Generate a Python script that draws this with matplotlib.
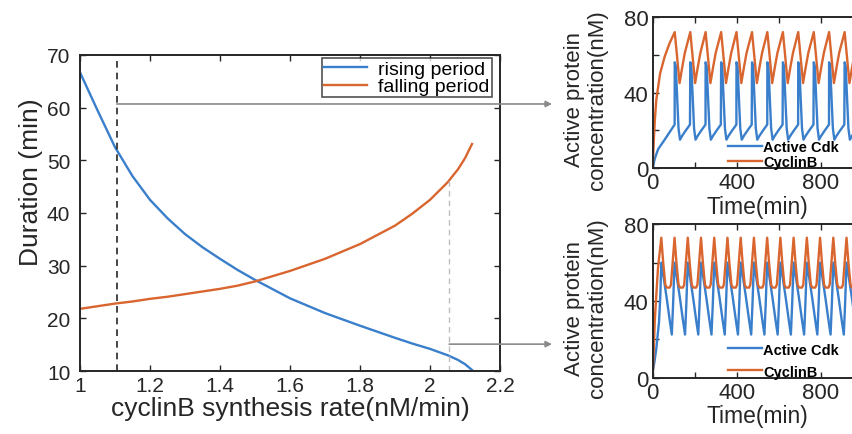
import matplotlib
matplotlib.use("Agg")
import matplotlib.pyplot as plt
import numpy as np

plt.rcParams['font.family'] = ['Liberation Sans', 'DejaVu Sans']

BLUE = '#3a7fcb'
ORANGE = '#d9652f'
INK = '#262626'

# --- left panel: durations vs cyclinB synthesis rate
rate = [1.00, 1.05, 1.10, 1.15, 1.20, 1.25, 1.30, 1.35, 1.40, 1.45, 1.50, 1.60, 1.70,
	1.80, 1.90, 1.95, 2.00, 2.05, 2.08, 2.10, 2.12]
rising = [66.7, 59.5, 52.5, 47.0, 42.5, 39.0, 36.0, 33.5, 31.3, 29.2, 27.3, 23.8, 21.0,
	18.6, 16.3, 15.2, 14.2, 13.0, 12.1, 11.3, 10.2]
falling = [21.8, 22.3, 22.8, 23.2, 23.7, 24.1, 24.6, 25.1, 25.6, 26.2, 27.0, 29.0, 31.3,
	34.1, 37.6, 39.9, 42.5, 45.8, 48.3, 50.4, 53.1]

selected_rates = [1.105, 2.055]
arrow_levels = [60.7, 15.1]

# --- right panels: time courses, peak times and one cycle shape
top_peaks = [105, 179, 252, 326, 399, 473, 546, 620, 693, 767, 840, 914, 987]
top_cdk_init_t = [0, 10, 26, 57, 104.5]
top_cdk_init = [0, 5, 10, 15, 23]
top_cdk_off = [0, 5, 12, 18, 25, 35, 50, 72.5]
top_cdk_val = [56, 54, 36, 21, 15, 17, 19.5, 23]
top_cyc_init_t = [0, 5, 10, 17, 35, 57, 80]
top_cyc_init = [0, 14, 25, 36, 50, 59, 66]
top_cyc_off = [0, 23, 35, 48]
top_cyc_val = [72, 45, 53, 61]

bot_peaks = [41, 104, 167, 230, 293, 356, 419, 482, 545, 608, 671, 734, 797, 860, 923, 986]
bot_cdk_init_t = [0, 8, 17, 30, 36]
bot_cdk_init = [3, 8, 15, 29, 42]
bot_cdk_off = [0, 10, 25, 40, 50, 56]
bot_cdk_val = [60, 53, 42, 30, 22.5, 38]
bot_cyc_init_t = [0, 10, 25]
bot_cyc_init = [0, 30, 57]
bot_cyc_off = [0, 9, 19, 26, 40, 46, 54]
bot_cyc_val = [73, 60, 48.5, 47, 47, 48.5, 60]


def trace(init_t, init_v, peaks, offs, vals):
	t = list(init_t)
	v = list(init_v)
	for p in peaks:
		t += [p + o for o in offs]
		v += vals
	return np.array(t), np.array(v)


def style_box(ax, size, xpad, ypad):
	ax.tick_params(which='both', direction='in', top=True, right=True,
		length=4, width=1.0, color=INK, labelcolor=INK, labelsize=size)
	ax.tick_params(axis='x', pad=xpad)
	ax.tick_params(axis='y', pad=ypad)
	for s in ax.spines.values():
		s.set_color(INK)
		s.set_linewidth(1.4)


fig = plt.figure(figsize=(8.52, 4.35), dpi=100)
W, H = 852.0, 435.0

# main panel
ax = fig.add_axes([80 / W, 1 - 372 / H, 420 / W, 316 / H])
ax.plot(rate, rising, color=BLUE, lw=1.7, label='rising period')
ax.plot(rate, falling, color=ORANGE, lw=1.7, label='falling period')
ax.set_xlim(1, 2.2)
ax.set_ylim(10, 70)
ax.set_xticks([1, 1.2, 1.4, 1.6, 1.8, 2, 2.2])
ax.set_xticklabels(['1', '1.2', '1.4', '1.6', '1.8', '2', '2.2'])
ax.set_yticks([10, 20, 30, 40, 50, 60, 70])
style_box(ax, 15, 3.5, 7)
ax.axvline(selected_rates[0], color=INK, ls=(0, (4, 3)), lw=1.2)
ax.vlines(selected_rates[1], 10, np.interp(selected_rates[1], rate, falling),
	colors='#bdbdbd', linestyles=(0, (4, 3)), lw=1.0)
ax.set_xlabel('cyclinB synthesis rate(nM/min)', fontsize=19, color=INK, labelpad=1)
ax.set_ylabel('Duration (min)', fontsize=19, color=INK)
ax.yaxis.set_label_coords(-0.088, 0.6)
leg = ax.legend(loc='upper right', bbox_to_anchor=(0.98, 0.99), borderaxespad=0,
	fontsize=14, labelspacing=0, borderpad=0.1, handlelength=2.2, handletextpad=0.6,
	fancybox=False, edgecolor=INK)
leg.get_frame().set_linewidth(1.2)

# arrows to the time-course panels
for r, lev in zip(selected_rates, arrow_levels):
	ax.annotate('', xy=(552 / W, lev), xycoords=('figure fraction', 'data'),
		xytext=(r, lev), textcoords='data', annotation_clip=False,
		arrowprops=dict(arrowstyle='-|>', color='#8a8a8a', lw=1.2,
			shrinkA=0, shrinkB=0, mutation_scale=9))

# time-course panels
panels = [
	(1 - 169 / H, 151 / H, 1 - 100 / H,
		trace(top_cdk_init_t, top_cdk_init, top_peaks, top_cdk_off, top_cdk_val),
		trace(top_cyc_init_t, top_cyc_init, top_peaks, top_cyc_off, top_cyc_val), 0.089, 0.05),
	(1 - 378.7 / H, 153.4 / H, 1 - 308 / H,
		trace(bot_cdk_init_t, bot_cdk_init, bot_peaks, bot_cdk_off, bot_cdk_val),
		trace(bot_cyc_init_t, bot_cyc_init, bot_peaks, bot_cyc_off, bot_cyc_val), 0.112, 0.55),
]
for bottom, height, label_y, (tc, vc), (ty, vy), leg_y, spacing in panels:
	a = fig.add_axes([652.7 / W, bottom, 210 / W, height])
	a.plot(tc, vc, color=BLUE, lw=1.7, label='Active Cdk')
	a.plot(ty, vy, color=ORANGE, lw=1.7, label='CyclinB')
	a.set_xlim(0, 1000)
	a.set_ylim(0, 80)
	a.set_xticks([0, 400, 800])
	a.set_xticks([200, 600, 1000], minor=True)
	a.set_yticks([0, 40, 80])
	a.set_yticks([20, 60], minor=True)
	style_box(a, 16, 3, 3)
	a.set_xlabel('Time(min)', fontsize=16.5, color=INK, labelpad=1)
	fig.text(586 / W, label_y, 'Active protein\nconcentration(nM)',
		rotation=90, ha='center', va='center', multialignment='center',
		fontsize=16, color=INK, linespacing=1.1)
	a.legend(loc='center left', bbox_to_anchor=(0.36, leg_y), frameon=False,
		borderpad=0, borderaxespad=0, handlelength=2.3, handletextpad=0.1,
		labelspacing=spacing, prop={'size': 10.5, 'weight': 'bold'})

fig.savefig('out.png', dpi=100)
